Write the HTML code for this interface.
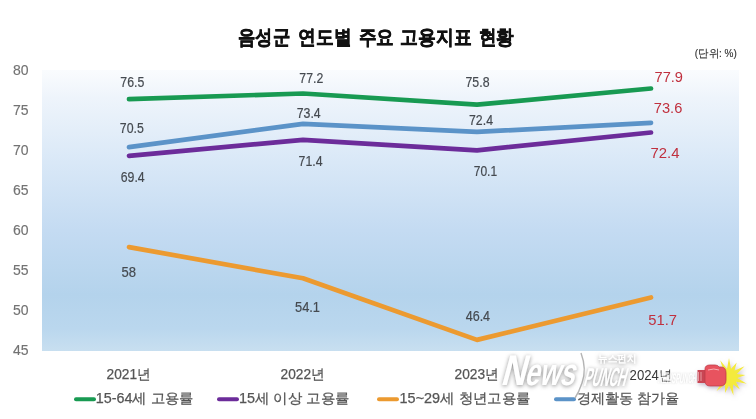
<!DOCTYPE html>
<html><head><meta charset="utf-8">
<style>
html,body{margin:0;padding:0;background:#fff;}
body{width:756px;height:419px;overflow:hidden;position:relative;font-family:"Liberation Sans",sans-serif;}
svg{position:absolute;left:0;top:0;will-change:transform;}
</style></head>
<body>
<svg width="756" height="419" viewBox="0 0 756 419" font-family="Liberation Sans, sans-serif">
<defs>
<linearGradient id="bg" x1="0" y1="0" x2="0" y2="1">
<stop offset="0" stop-color="#fafcfe"/>
<stop offset="0.1" stop-color="#eef4fb"/>
<stop offset="0.33" stop-color="#d9e8f7"/>
<stop offset="0.57" stop-color="#c4dbf2"/>
<stop offset="0.8" stop-color="#b4d3ec"/>
<stop offset="0.92" stop-color="#bad7ee"/>
<stop offset="1" stop-color="#c8dff0"/>
</linearGradient>
<filter id="ws" x="-30%" y="-50%" width="160%" height="200%">
<feGaussianBlur in="SourceAlpha" stdDeviation="2.2"/>
<feOffset dx="-0.5" dy="0.8" result="b"/>
<feFlood flood-color="#8c8c8c" flood-opacity="1"/>
<feComposite in2="b" operator="in" result="s"/>
<feMerge><feMergeNode in="s"/><feMergeNode in="SourceGraphic"/></feMerge>
</filter>
<filter id="ws2" x="-30%" y="-50%" width="160%" height="200%">
<feGaussianBlur in="SourceAlpha" stdDeviation="1.2" result="b"/>
<feFlood flood-color="#9a9a9a" flood-opacity="0.7"/>
<feComposite in2="b" operator="in" result="s"/>
<feMerge><feMergeNode in="s"/><feMergeNode in="SourceGraphic"/></feMerge>
</filter>
<filter id="gs" x="-50%" y="-50%" width="200%" height="200%">
<feGaussianBlur in="SourceAlpha" stdDeviation="2"/>
<feOffset dx="1" dy="2" result="b"/>
<feFlood flood-color="#9a8ca8" flood-opacity="0.6"/>
<feComposite in2="b" operator="in" result="s"/>
<feMerge><feMergeNode in="s"/><feMergeNode in="SourceGraphic"/></feMerge>
</filter>
</defs>

<!-- title -->
<g font-size="19.5" font-weight="bold" fill="#111" stroke="#111" stroke-width="0.55"><text x="238.2" y="43.6" textLength="51.8" lengthAdjust="spacingAndGlyphs">음성군</text><text x="298.1" y="43.6" textLength="53.4" lengthAdjust="spacingAndGlyphs">연도별</text><text x="358.7" y="43.6" textLength="35.2" lengthAdjust="spacingAndGlyphs">주요</text><text x="400.4" y="43.6" textLength="71.3" lengthAdjust="spacingAndGlyphs">고용지표</text><text x="478.7" y="43.6" textLength="35.1" lengthAdjust="spacingAndGlyphs">현황</text></g>
<text x="694.8" y="56.8" font-size="10.5" fill="#333" stroke="#333" stroke-width="0.15" textLength="42" lengthAdjust="spacingAndGlyphs">(단위: %)</text>

<!-- plot area -->
<rect x="42" y="70" width="697" height="281" fill="url(#bg)"/>

<!-- y axis labels -->
<g font-size="14" fill="#737373" stroke="#737373" stroke-width="0.15" text-anchor="end">
<text x="28.5" y="74.5">80</text>
<text x="28.5" y="114.5">75</text>
<text x="28.5" y="154.5">70</text>
<text x="28.5" y="194.5">65</text>
<text x="28.5" y="234.5">60</text>
<text x="28.5" y="274.5">55</text>
<text x="28.5" y="314.5">50</text>
<text x="28.5" y="354.5">45</text>
</g>

<!-- lines -->
<g fill="none" stroke-width="4.7" stroke-linecap="round" stroke-linejoin="round">
<polyline stroke="#5b93c8" points="129,147.1 303,123.9 477,131.9 651,122.9"/>
<polyline stroke="#6c2c9a" points="129,155.9 303,139.9 477,150.3 651,132.5"/>
<polyline stroke="#189a52" points="129,99.1 303,93.5 477,104.7 651,88.5"/>
<polyline stroke="#ec9a30" points="129,247.1 303,278.3 477,339.9 651,297.5"/>
</g>

<!-- data labels -->
<g font-size="14.5" fill="#454a50" stroke="#454a50" stroke-width="0.2">
<text x="120.3" y="87" textLength="24" lengthAdjust="spacingAndGlyphs">76.5</text>
<text x="299.3" y="83" textLength="24" lengthAdjust="spacingAndGlyphs">77.2</text>
<text x="465.5" y="87" textLength="24" lengthAdjust="spacingAndGlyphs">75.8</text>
<text x="119.8" y="133" textLength="24" lengthAdjust="spacingAndGlyphs">70.5</text>
<text x="296.7" y="118" textLength="24" lengthAdjust="spacingAndGlyphs">73.4</text>
<text x="469" y="124.7" textLength="24" lengthAdjust="spacingAndGlyphs">72.4</text>
<text x="120.7" y="181.8" textLength="24" lengthAdjust="spacingAndGlyphs">69.4</text>
<text x="298.6" y="166" textLength="24" lengthAdjust="spacingAndGlyphs">71.4</text>
<text x="473.7" y="175.7" textLength="23.5" lengthAdjust="spacingAndGlyphs">70.1</text>
<text x="121.5" y="276.5" textLength="14.5" lengthAdjust="spacingAndGlyphs">58</text>
<text x="295" y="311.5" textLength="25" lengthAdjust="spacingAndGlyphs">54.1</text>
<text x="465.7" y="321" textLength="24.4" lengthAdjust="spacingAndGlyphs">46.4</text>
</g>
<g font-size="15.5" fill="#c0303e">
<text x="654.5" y="82" textLength="28.5" lengthAdjust="spacingAndGlyphs">77.9</text>
<text x="653.8" y="112.5" textLength="28.5" lengthAdjust="spacingAndGlyphs">73.6</text>
<text x="650.5" y="157.8" textLength="29" lengthAdjust="spacingAndGlyphs">72.4</text>
<text x="648.3" y="325.3" textLength="28.8" lengthAdjust="spacingAndGlyphs">51.7</text>
</g>

<!-- category labels -->
<g font-size="14" fill="#555555" stroke="#555555" stroke-width="0.25">
<text x="106.6" y="378.8" textLength="44.2" lengthAdjust="spacingAndGlyphs">2021년</text>
<text x="280.6" y="378.8" textLength="44.2" lengthAdjust="spacingAndGlyphs">2022년</text>
<text x="454.6" y="378.8" textLength="44.2" lengthAdjust="spacingAndGlyphs">2023년</text>
</g>

<!-- legend -->
<g stroke-width="4" stroke-linecap="round">
<line x1="76" y1="399.2" x2="94" y2="399.2" stroke="#189a52"/>
<line x1="219" y1="399.2" x2="237" y2="399.2" stroke="#6c2c9a"/>
<line x1="379" y1="399.2" x2="397" y2="399.2" stroke="#ec9a30"/>
<line x1="556" y1="399.2" x2="574" y2="399.2" stroke="#5b93c8"/>
</g>
<g font-size="14" fill="#555555" stroke="#555555" stroke-width="0.25">
<text x="95.8" y="402.8" textLength="98" lengthAdjust="spacingAndGlyphs">15-64세 고용률</text>
<text x="239" y="402.8" textLength="110.5" lengthAdjust="spacingAndGlyphs">15세 이상 고용률</text>
<text x="399.6" y="402.8" textLength="131" lengthAdjust="spacingAndGlyphs">15~29세 청년고용률</text>
<text x="576.6" y="402.8" textLength="103" lengthAdjust="spacingAndGlyphs">경제활동 참가율</text>
</g>

<!-- watermark -->
<path d="M581,353 q6,16 1,30 q-3,9 -7,15" fill="none" stroke="#b4b4b4" stroke-width="1.4"/>
<g filter="url(#ws)" fill="#ffffff">
<text x="0" y="0" font-size="43" font-weight="bold" textLength="25" lengthAdjust="spacingAndGlyphs" transform="translate(500,385) skewX(-15)">N</text>
<text x="0" y="0" font-size="38" font-weight="bold" textLength="50" lengthAdjust="spacingAndGlyphs" transform="translate(524,385) skewX(-15)">ews</text>
<text x="0" y="0" font-size="26" font-weight="bold" textLength="42" lengthAdjust="spacingAndGlyphs" transform="translate(583,385.5) skewX(-15)">PUNCH</text>
<text x="598" y="361.5" font-size="10" font-weight="bold" textLength="38" lengthAdjust="spacingAndGlyphs">뉴스펀치</text>
</g>
<text x="629.6" y="380.4" font-size="14" fill="#383838" textLength="42.5" lengthAdjust="spacingAndGlyphs">2024년</text>
<g filter="url(#ws2)" opacity="0.6"><text x="0" y="0" font-size="14" font-weight="bold" fill="#fff" textLength="38" lengthAdjust="spacingAndGlyphs" transform="translate(658,383) skewX(-8)">NEWSPUNCH</text></g>

<!-- glove + starburst -->
<g filter="url(#gs)">
<polygon fill="#f4ea3c" points="729.0,358.0 731.0,368.7 736.7,362.4 734.6,370.6 744.6,366.2 736.9,374.0 745.4,375.0 737.4,378.0 746.8,383.7 736.0,381.8 739.9,389.4 733.0,384.5 733.5,395.4 729.0,385.5 725.1,393.0 725.0,384.5 716.4,391.2 722.0,381.8 713.6,382.9 720.6,378.0 710.1,374.7 721.1,374.0 715.4,367.6 723.4,370.6 720.2,360.2 727.0,368.7"/>
<rect x="697.5" y="370" width="8" height="13" fill="#c94452"/>
<path fill="#e8525e" stroke="#c03c48" stroke-width="0.8" d="M705,369 q0,-4 5,-4 h5 q3,0 4,2 h2 q5,0 5,6 v7 q0,6 -6,6 h-10 q-5,0 -5,-5 z"/><path d="M708,370 q6,-2 11,0" fill="none" stroke="#f7b0b4" stroke-width="1"/><path d="M698.5,372 v9 M701,372 v9" stroke="#f0c0c4" stroke-width="0.7"/>
</g>
</svg>
</body></html>
